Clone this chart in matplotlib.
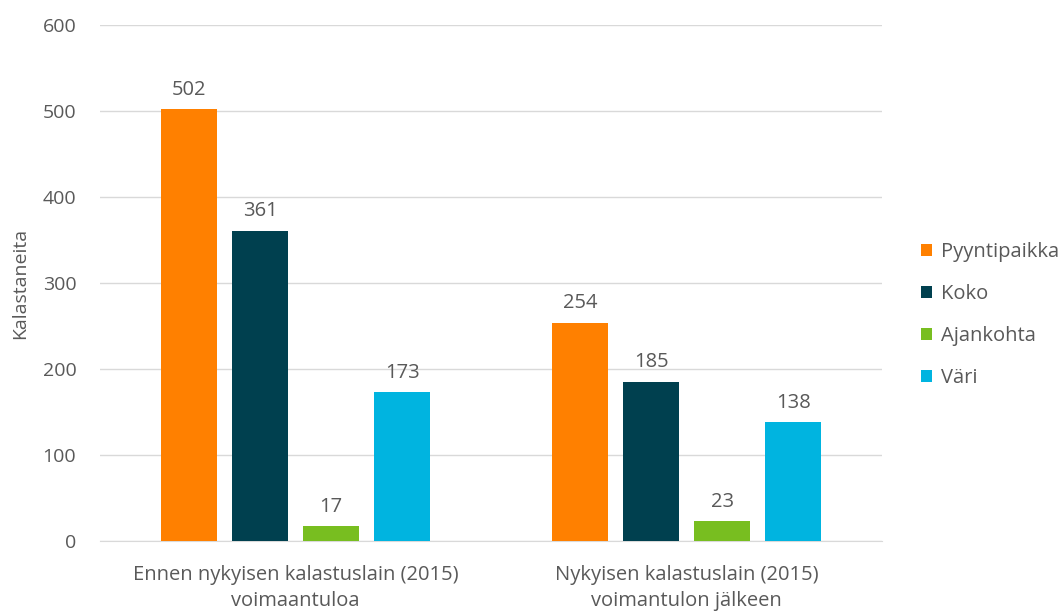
import matplotlib.pyplot as plt
import numpy as np

plt.rcParams['font.family'] = ['Open Sans', 'DejaVu Sans']

categories = ["Ennen nykyisen kalastuslain (2015)\nvoimaantuloa",
              "Nykyisen kalastuslain (2015)\nvoimantulon jälkeen"]
series = ["Pyyntipaikka", "Koko", "Ajankohta", "Väri"]
values = {
    "Pyyntipaikka": [502, 254],
    "Koko": [361, 185],
    "Ajankohta": [17, 23],
    "Väri": [173, 138],
}
colors = ["#FF8000", "#00404F", "#78BE20", "#00B4E0"]
text_color = "#595959"

fig = plt.figure(figsize=(10.63, 6.14), dpi=100)
ax = fig.add_axes([0.094, 0.119, 0.736, 0.840])

x = np.arange(len(categories))
width = 0.143
step = 0.1816
for i, name in enumerate(series):
    pos = x + (i - 1.5) * step
    bars = ax.bar(pos, values[name], width, color=colors[i], label=name, zorder=3)
    for b, v in zip(bars, values[name]):
        ax.text(b.get_x() + b.get_width() / 2, v + 11, str(v),
                ha='center', va='bottom', fontsize=14.5, color=text_color)

ax.set_xlim(-0.5, 1.5)
ax.set_ylim(0, 600)
ax.set_yticks(range(0, 601, 100))
ax.set_xticks(x)
ax.set_xticklabels(categories, fontsize=14.5, color=text_color, linespacing=1.45)
ax.tick_params(axis='y', labelsize=14, labelcolor=text_color, length=0, pad=17)
ax.tick_params(axis='x', length=0, pad=17)
ax.grid(axis='y', color="#D9D9D9", linewidth=1, zorder=0)
for s in ['top', 'right', 'left']:
    ax.spines[s].set_visible(False)
ax.spines['bottom'].set_color("#D9D9D9")
ax.set_ylabel("Kalastaneita", fontsize=14, color=text_color, labelpad=10)

leg = ax.legend(loc='center left', bbox_to_anchor=(1.05, 0.438), frameon=False,
                fontsize=14.5, handlelength=0.55, handleheight=0.55,
                handletextpad=0.4, labelspacing=1.1, borderpad=0,
                borderaxespad=0)
for t in leg.get_texts():
    t.set_color(text_color)

fig.savefig("out.png", dpi=100)
